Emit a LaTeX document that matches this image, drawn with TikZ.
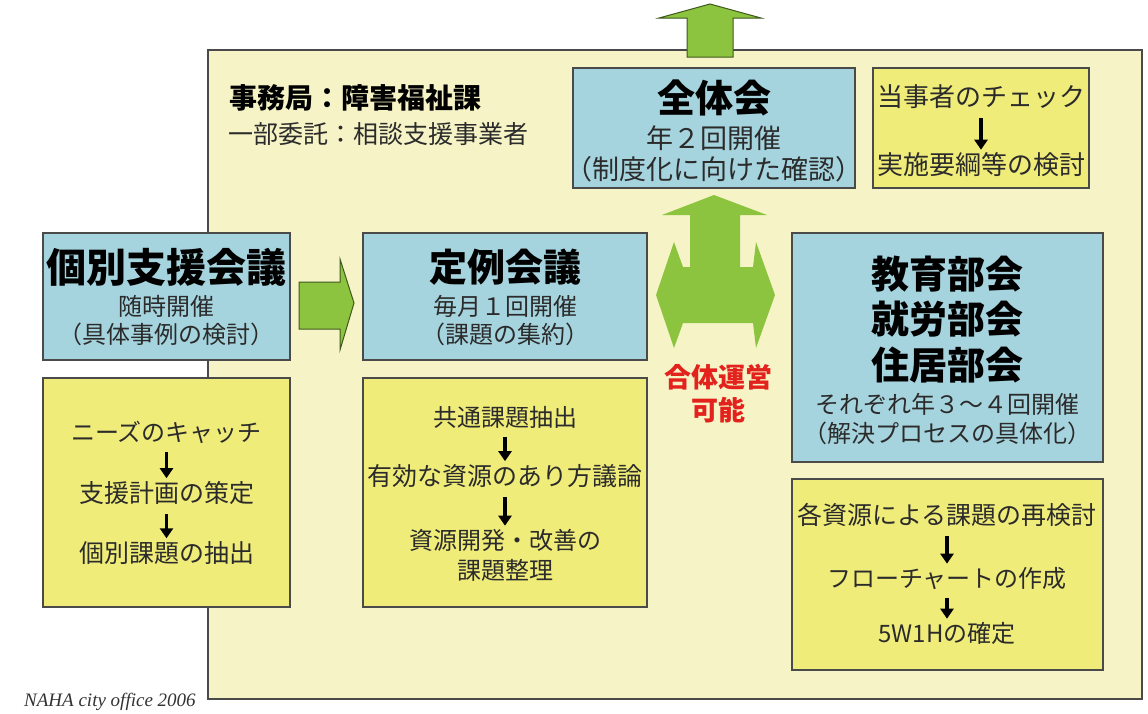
\documentclass[tikz,border=0pt]{standalone}
\usepackage{fontspec}
\setmainfont{Noto Sans CJK JP}
\newfontfamily\footfont{Liberation Serif}
\usetikzlibrary{arrows.meta}
\definecolor{frameFill}{HTML}{F6F4C6}
\definecolor{boxBlue}{HTML}{A6D4DE}
\definecolor{boxYel}{HTML}{F0EC7A}
\definecolor{arrGreen}{HTML}{8CC43F}
\definecolor{lineGray}{HTML}{4A4A4A}
\definecolor{txtGray}{HTML}{2B2B2B}
\definecolor{redTxt}{HTML}{E3221D}
\begin{document}
\begin{tikzpicture}[x=1pt,y=-1pt,
  box/.style={draw=lineGray, line width=1.4pt, anchor=north west, inner sep=0pt, outer sep=0pt},
  bluebox/.style={box, fill=boxBlue},
  yelbox/.style={box, fill=boxYel},
  ttl/.style={inner sep=0pt, font=\bfseries\fontsize{38}{40}\selectfont},
  sub/.style={inner sep=0pt, text=txtGray, font=\fontsize{24}{26}\selectfont},
  item/.style={inner sep=0pt, text=txtGray, font=\fontsize{24}{26}\selectfont},
  flow/.style={-{Triangle[width=13pt,length=10pt]}, line width=3.2pt, black, shorten <=9pt, shorten >=3pt},
  garrow/.style={fill=arrGreen, draw=arrGreen!45!black, line width=1pt, line join=miter},
  gshape/.style={fill=arrGreen, draw=none},
]
\useasboundingbox (0,0) rectangle (1148,713);
\fill[white] (0,0) rectangle (1148,713);

% outer frame
\node[box, fill=frameFill, line width=1.8pt, minimum width=934pt, minimum height=649pt] (frame) at (208,50) {};

% top arrow
\draw[garrow] (710,4) -- (761,18) -- (733,18) -- (733,57) -- (687,57) -- (687,18) -- (659,18) -- cycle;

% secretariat text
\node[inner sep=0pt, anchor=west, font=\bfseries\fontsize{28}{30}\selectfont] (sec) at (229,98) {事務局：障害福祉課};
\node[inner sep=0pt, anchor=west, text=txtGray, font=\fontsize{25}{27}\selectfont] (sec2) at (228,134) {一部委託：相談支援事業者};

% 全体会
\node[bluebox, minimum width=282pt, minimum height=120pt] (zb) at (573,68) {};
\node[ttl] (zt) at (714,98) {全体会};
\node[sub, font=\fontsize{27}{29}\selectfont] (zs1) at (714,138) {年２回開催};
\node[sub, font=\fontsize{27}{29}\selectfont] (zs2) at (714,169) {（制度化に向けた確認）};

% 当事者
\node[yelbox, minimum width=216pt, minimum height=120pt] (tb) at (873,68) {};
\node[item, font=\fontsize{26}{28}\selectfont] (t1) at (981,97) {当事者のチェック};
\node[item, font=\fontsize{26}{28}\selectfont] (t2) at (981,165) {実施要綱等の検討};
\draw[flow] (t1) -- (t2);

% 個別支援会議
\node[bluebox, minimum width=247pt, minimum height=127pt] (kb) at (43,233) {};
\node[ttl, font=\bfseries\fontsize{40}{42}\selectfont] (kt) at (166.5,267) {個別支援会議};
\node[sub] (ks1) at (166.5,306) {随時開催};
\node[sub] (ks2) at (166.5,334) {（具体事例の検討）};
\node[yelbox, minimum width=247pt, minimum height=229pt] (ky) at (43,378) {};
\node[item] (k1) at (166.5,432) {ニーズのキャッチ};
\node[item, font=\fontsize{25}{27}\selectfont] (k2) at (166.5,493) {支援計画の策定};
\node[item, font=\fontsize{25}{27}\selectfont] (k3) at (166.5,553) {個別課題の抽出};
\draw[flow] (k1) -- (k2);
\draw[flow] (k2) -- (k3);

% 定例会議
\node[bluebox, minimum width=284pt, minimum height=127pt] (tr) at (363,233) {};
\node[ttl] (trt) at (505,267) {定例会議};
\node[sub] (trs1) at (505,306) {毎月１回開催};
\node[sub] (trs2) at (505,334) {（課題の集約）};
\node[yelbox, minimum width=284pt, minimum height=229pt] (ty) at (363,378) {};
\node[item] (m1) at (505,417) {共通課題抽出};
\node[item, font=\fontsize{25}{27}\selectfont] (m2) at (505,476) {有効な資源のあり方議論};
\node[item] (m3) at (505,540) {資源開発・改善の};
\node[item] (m4) at (505,570) {課題整理};
\draw[flow] (m1) -- (m2);
\draw[flow] (m2) -- (m3);

% 部会
\node[bluebox, minimum width=311pt, minimum height=229pt] (bb) at (792,233) {};
\node[ttl] (b1) at (947,274) {教育部会};
\node[ttl] (b2) at (947,319) {就労部会};
\node[ttl] (b3) at (947,365) {住居部会};
\node[sub] (bs1) at (947,404) {それぞれ年３～４回開催};
\node[sub] (bs2) at (947,433) {（解決プロセスの具体化）};
\node[yelbox, minimum width=311pt, minimum height=191pt] (by) at (792,479) {};
\node[item, font=\fontsize{25}{27}\selectfont] (r1) at (947,515) {各資源による課題の再検討};
\node[item] (r2) at (947,578) {フローチャートの作成};
\node[item] (r3) at (947,633) {5W1Hの確定};
\draw[flow] (r1) -- (r2);
\draw[flow] (r2) -- (r3);

% arrow 個別 -> 定例
\draw[garrow] (299,282) -- (340,282) -- (340,259) -- (354,303) -- (340,350) -- (340,329) -- (299,329) -- cycle;

% combined up / left-right arrow
\fill[gshape] (714,195) -- (767,215) -- (740,215) -- (740,267) -- (753,267) -- (756,242) -- (775,295)
  -- (756,348) -- (753,323) -- (683,323) -- (674,348) -- (656,295) -- (674,242) -- (683,267)
  -- (690,267) -- (690,215) -- (662,215) -- cycle;

% red text
\node[inner sep=0pt, text=redTxt, font=\bfseries\fontsize{27}{29}\selectfont] (g1) at (718,377) {合体運営};
\node[inner sep=0pt, text=redTxt, font=\bfseries\fontsize{27}{29}\selectfont] (g2) at (718,410) {可能};

% footer
\node[inner sep=0pt, anchor=west, font=\footfont\itshape\fontsize{19}{21}\selectfont, text=black!80] (foot) at (24,702) {NAHA city office 2006};
\end{tikzpicture}
\end{document}
